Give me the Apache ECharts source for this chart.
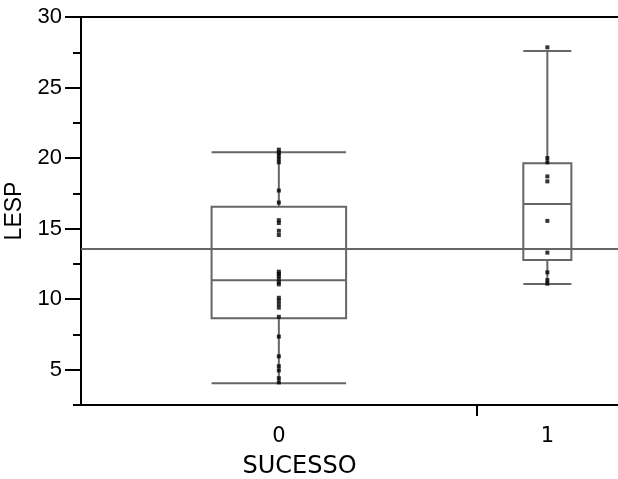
<!DOCTYPE html>
<html>
<head>
<meta charset="utf-8">
<script src="https://cdn.jsdelivr.net/npm/echarts@6/dist/echarts.min.js"></script>
<style>html,body{margin:0;padding:0;background:#fff;}#chart{width:618px;height:479px;}</style>
</head>
<body>
<div id="chart"></div>
<script>
// ---- data ----
const categories = ['0', '1'];
const lespGroup0 = [20.6, 20.4, 20.2, 19.95, 19.7, 17.7, 16.85, 15.6, 15.4, 14.85, 14.55,
  11.95, 11.8, 11.65, 11.45, 11.2, 11.05, 10.1, 9.9, 9.65, 9.4,
  8.75, 7.35, 5.95, 5.25, 4.95, 4.4, 4.1];
const lespGroup1 = [27.85, 20.0, 19.7, 18.7, 18.35, 15.55, 13.3, 11.9, 11.35, 11.1];
// [min, Q1, median, Q3, max] as drawn
const boxStats0 = [4.04, 8.65, 11.34, 16.56, 20.41];
const boxStats1 = [11.08, 12.78, 16.75, 19.63, 27.59];
const overallMean = 13.56;
const yMajorTicks = [5, 10, 15, 20, 25, 30];
const yMinorTicks = [2.5, 7.5, 12.5, 17.5, 22.5, 27.5];

// ---- derived layout (group widths proportional to n) ----
const groups = [lespGroup0, lespGroup1];
const stats = [boxStats0, boxStats1];
const counts = groups.map(g => g.length);
const total = counts.reduce((a, b) => a + b, 0);
const starts = [];
let acc = 0;
counts.forEach(n => { starts.push(acc); acc += n; });
const centers = counts.map((n, i) => starts[i] + n / 2);
const boundaries = starts.slice(1);

const boxData = stats.map((s, i) => [centers[i], ...s, counts[i] * 0.17]);
const pointData = groups.flatMap((g, i) => g.map(v => [centers[i], v]));

const GRAY = '#666666';
const chart = echarts.init(document.getElementById('chart'));
chart.setOption({
  animation: false,
  grid: { left: 81, right: 0, top: 17, bottom: 74, containLabel: false, outerBoundsMode: 'none' },
  xAxis: [{
    type: 'value', min: 0, max: total, position: 'bottom',
    name: 'SUCESSO', nameLocation: 'middle', nameGap: 50,
    nameTextStyle: { fontFamily: 'DejaVu Sans', fontSize: 24, color: '#000', padding: [0, 100, 0, 0] },
    axisLine: { show: true, lineStyle: { color: '#000', width: 2 } },
    axisTick: { show: true, customValues: boundaries, length: 11, lineStyle: { color: '#000', width: 2 } },
    axisLabel: {
      show: true, customValues: centers, margin: 21,
      fontFamily: 'DejaVu Sans', fontSize: 21, color: '#000',
      formatter: v => { const i = centers.indexOf(v); return i >= 0 ? categories[i] : ''; }
    },
    splitLine: { show: false }
  }, {
    type: 'value', min: 0, max: total, position: 'top',
    axisLine: { show: true, lineStyle: { color: '#000', width: 2 } },
    axisTick: { show: false }, axisLabel: { show: false }, splitLine: { show: false }
  }],
  yAxis: [{
    type: 'value', min: 2.5, max: 30, position: 'left',
    name: 'LESP', nameLocation: 'middle', nameGap: 52,
    nameTextStyle: { fontFamily: 'Liberation Sans', fontSize: 23, color: '#000' },
    axisLine: { show: true, lineStyle: { color: '#000', width: 2 } },
    axisTick: { show: true, customValues: yMajorTicks, length: 16, lineStyle: { color: '#000', width: 2 } },
    axisLabel: { show: true, customValues: yMajorTicks, margin: 19, fontFamily: 'Liberation Sans', fontSize: 22, color: '#000' },
    splitLine: { show: false }
  }, {
    type: 'value', min: 2.5, max: 30, position: 'left', offset: 0,
    axisLine: { show: false },
    axisTick: { show: true, customValues: yMinorTicks, length: 8, lineStyle: { color: '#000', width: 2 } },
    axisLabel: { show: false }, splitLine: { show: false }
  }],
  series: [{
    type: 'custom',
    xAxisIndex: 0, yAxisIndex: 0,
    data: boxData,
    encode: { x: 0, y: [1, 2, 3, 4, 5] },
    renderItem: function (params, api) {
      const xc = api.value(0), hw = api.value(6);
      const xL = api.coord([xc - hw, api.value(3)])[0];
      const xR = api.coord([xc + hw, api.value(3)])[0];
      const xm = api.coord([xc, api.value(3)])[0];
      const y = k => api.coord([xc, api.value(k)])[1];
      const st = { stroke: GRAY, lineWidth: 2, fill: null };
      const ln = (x1, y1, x2, y2) => ({ type: 'line', shape: { x1, y1, x2, y2 }, style: st });
      return {
        type: 'group',
        children: [
          { type: 'rect', shape: { x: xL, y: y(4), width: xR - xL, height: y(2) - y(4) }, style: st },
          ln(xL, y(3), xR, y(3)),
          ln(xm, y(4), xm, y(5)),
          ln(xm, y(2), xm, y(1)),
          ln(xL, y(5), xR, y(5)),
          ln(xL, y(1), xR, y(1))
        ]
      };
    },
    z: 2
  }, {
    type: 'scatter',
    xAxisIndex: 0, yAxisIndex: 0,
    data: pointData,
    symbol: 'rect', symbolSize: [4, 4],
    itemStyle: { color: '#000' },
    z: 3,
    markLine: {
      silent: true, symbol: ['none', 'none'],
      label: { show: false },
      lineStyle: { color: GRAY, width: 2, type: 'solid' },
      data: [{ yAxis: overallMean }]
    }
  }]
});
</script>
</body>
</html>
